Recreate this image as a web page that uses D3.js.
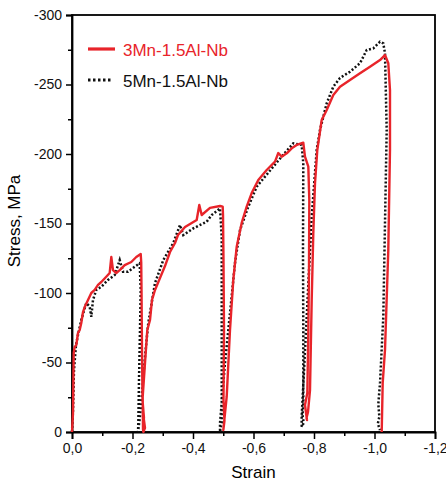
<!DOCTYPE html>
<html>
<head>
<meta charset="utf-8">
<script src="https://cdn.jsdelivr.net/npm/d3@7"></script>
<style>
  body { margin: 0; background: #fff; }
  text { font-family: "Liberation Sans", Arial, sans-serif; }
</style>
</head>
<body>
<script>
'use strict';

// series names
const seriesNames = ["3Mn-1.5Al-Nb", "5Mn-1.5Al-Nb"];

// 3Mn-1.5Al-Nb: [strain, stress MPa]
const strain3Mn = [0, -0.0033, -0.0056, -0.0089, -0.0142, -0.0198, -0.0254, -0.0307, -0.0364, -0.0420,
  -0.0529, -0.0638, -0.0750, -0.0860, -0.0969, -0.1124, -0.1246, -0.1299, -0.1355, -0.1464,
  -0.1577, -0.1742, -0.1960, -0.2126, -0.2271,
  -0.2288, -0.2298, -0.2314, -0.2331, -0.2380, -0.2347, -0.2413, -0.2360, -0.2347,
  -0.2337, -0.2413, -0.2489, -0.2579, -0.2645, -0.2744, -0.2909, -0.3074, -0.3240, -0.3405,
  -0.3504, -0.3736, -0.3957, -0.4122, -0.4208, -0.4288, -0.4562, -0.4893, -0.4982,
  -0.4992, -0.5008, -0.5025, -0.5008, -0.5040, -0.5002,
  -0.5114, -0.5223, -0.5332, -0.5445, -0.5610, -0.5775, -0.5940, -0.6159, -0.6436, -0.6711,
  -0.6820, -0.6932, -0.7098, -0.7263, -0.7428, -0.7646,
  -0.7702, -0.7812, -0.7845, -0.7835, -0.7812, -0.7779, -0.7702, -0.7769, -0.7752,
  -0.7802, -0.7868, -0.7924, -0.7977, -0.8033, -0.8109, -0.8255, -0.8420, -0.8638, -0.8860,
  -0.9190, -0.9521, -0.9851, -1.0182, -1.0347,
  -1.0456, -1.0512, -1.0512, -1.0456, -1.0347, -1.0271, -1.0238];
const stress3Mn = [0, -13.7, -56.8, -61.2, -62.6, -71.2, -73.4, -78.4, -86.3, -89.9,
  -95.0, -100.0, -102.2, -105.8, -107.9, -111.5, -114.4, -125.9, -116.5, -114.4,
  -116.5, -120.1, -122.3, -125.9, -128.1,
  -122.3, -102.2, -59.0, -23.0, -10.0, -14.0, -3.0, 0, -2.0,
  -25.4, -49.6, -73.4, -80.6, -95.0, -102.2, -110.8, -119.4, -129.5, -136.0,
  -141.7, -147.5, -150.4, -152.5, -163.3, -156.1, -161.2, -162.6, -162.1,
  -156.1, -123.7, -73.4, -23.0, -8.0, -1.4,
  -25.4, -73.4, -109.4, -133.3, -150.4, -162.1, -171.9, -181.3, -188.5, -194.5,
  -200.7, -198.1, -200.5, -204.1, -206.5, -208.1,
  -198.1, -190.9, -166.9, -118.9, -71.0, -28.1, -19.4, -8.6, -10.1,
  -14.4, -30.2, -95.0, -143.0, -178.9, -202.9, -224.5, -231.7, -242.4, -248.4,
  -253.2, -258.1, -262.8, -267.6, -271.2,
  -265.3, -246.0, -202.9, -130.9, -59.0, -35.3, 0];

// 5Mn-1.5Al-Nb
const strain5Mn = [0, -0.0033, -0.0066, -0.0132, -0.0198, -0.0307, -0.0473, -0.0585, -0.0638, -0.0694,
  -0.0803, -0.0969, -0.1190, -0.1412, -0.1577, -0.1686, -0.1851, -0.2073, -0.2238,
  -0.2271, -0.2248, -0.2215, -0.2192, -0.2182,
  -0.2248, -0.2413, -0.2522, -0.2744, -0.3018, -0.3349, -0.3570, -0.3679, -0.4010, -0.4453,
  -0.4618, -0.4893,
  -0.4949, -0.4949, -0.4949, -0.4893,
  -0.4893, -0.5058, -0.5223, -0.5388, -0.5554, -0.5828, -0.6106, -0.6380, -0.6655, -0.6932,
  -0.7316, -0.7593,
  -0.7646, -0.7636, -0.7646, -0.7646, -0.7620, -0.7660, -0.7593,
  -0.7593, -0.7759, -0.7924, -0.8089, -0.8198, -0.8420, -0.8638, -0.8860, -0.9190, -0.9521,
  -0.9742, -0.9960, -1.0182, -1.0291,
  -1.0347, -1.0403, -1.0291, -1.0182, -1.0126, -1.0160, -1.0110, -1.0182];
const stress5Mn = [0, -15.8, -44.6, -62.6, -69.8, -80.6, -92.8, -90.1, -82.9, -95.0,
  -102.2, -104.5, -109.4, -112.9, -123.7, -115.3, -115.3, -118.9, -121.4,
  -102.2, -73.4, -37.4, -6.3, 0,
  -11.0, -54.2, -78.4, -107.2, -123.7, -136.0, -148.9, -141.7, -146.5, -151.3,
  -156.1, -160.9,
  -140.5, -73.4, -6.5, 0,
  -6.5, -49.6, -85.6, -121.6, -145.3, -162.1, -176.5, -183.7, -190.9, -198.1,
  -207.7, -206.5,
  -193.3, -130.9, -73.4, -20.0, -12.0, -6.5, -3.8,
  -11.0, -82.9, -154.9, -202.9, -217.3, -236.5, -248.4, -254.7, -259.2, -265.3,
  -274.8, -276.0, -280.8, -279.6,
  -272.4, -217.3, -82.9, -35.3, -20.0, -11.0, -6.0, -1.4];

// axis ticks
const xTicks = [0, -0.2, -0.4, -0.6, -0.8, -1.0, -1.2];
const xMinor = [-0.1, -0.3, -0.5, -0.7, -0.9, -1.1];
const yTicks = [0, -50, -100, -150, -200, -250, -300];
const yMinor = [-25, -75, -125, -175, -225, -275];

const W = 446, H = 485;
const mLeft = 72, mRight = 435, mTop = 15, mBottom = 432;

const svg = d3.select('body').append('svg')
  .attr('width', W)
  .attr('height', H);

const x = d3.scaleLinear().domain([0, -1.2]).range([mLeft, mRight]);
const y = d3.scaleLinear().domain([0, -300]).range([mBottom, mTop]);

const fmt = d => d3.format('.1f')(d).replace('.', ',').replace('−', '-');

// frame
svg.append('rect')
  .attr('x', mLeft).attr('y', mTop)
  .attr('width', mRight - mLeft).attr('height', mBottom - mTop)
  .attr('fill', 'none').attr('stroke', '#000').attr('stroke-width', 1.8);

// x axis
const xAxis = d3.axisBottom(x).tickValues(xTicks).tickSize(7).tickPadding(4)
  .tickFormat(fmt);
const gx = svg.append('g').attr('transform', `translate(0,${mBottom})`).call(xAxis);
gx.select('.domain').attr('stroke-width', 1.8);
gx.selectAll('.tick line').attr('stroke-width', 1.5);
gx.selectAll('text').style('font-size', '14px').attr('fill', '#111');
svg.append('g').attr('transform', `translate(0,${mBottom})`)
  .call(d3.axisBottom(x).tickValues(xMinor).tickSize(4).tickFormat(''))
  .call(g => g.select('.domain').remove())
  .selectAll('.tick line').attr('stroke-width', 1.5);

// y axis
const yAxis = d3.axisLeft(y).tickValues(yTicks).tickSize(6).tickPadding(4)
  .tickFormat(d => String(d).replace('−', '-'));
const gy = svg.append('g').attr('transform', `translate(${mLeft},0)`).call(yAxis);
gy.select('.domain').attr('stroke-width', 1.8);
gy.selectAll('.tick line').attr('stroke-width', 1.5);
gy.selectAll('text').style('font-size', '14px').attr('fill', '#111');
svg.append('g').attr('transform', `translate(${mLeft},0)`)
  .call(d3.axisLeft(y).tickValues(yMinor).tickSize(4).tickFormat(''))
  .call(g => g.select('.domain').remove())
  .selectAll('.tick line').attr('stroke-width', 1.5);

// axis titles
svg.append('text')
  .attr('x', (mLeft + mRight) / 2)
  .attr('y', 478)
  .attr('text-anchor', 'middle')
  .style('font-size', '17px')
  .text('Strain');

svg.append('text')
  .attr('transform', 'translate(20, 221)rotate(-90)')
  .attr('text-anchor', 'middle')
  .style('font-size', '17px')
  .text('Stress, MPa');

// curves
const line = d3.line().x(d => x(d[0])).y(d => y(d[1]));
const pts5 = strain5Mn.map((s, i) => [s, stress5Mn[i]]);
const pts3 = strain3Mn.map((s, i) => [s, stress3Mn[i]]);

svg.append('path')
  .datum(pts5)
  .attr('d', line)
  .attr('fill', 'none')
  .attr('stroke', '#111')
  .attr('stroke-width', 2.5)
  .attr('stroke-dasharray', '2,2');

svg.append('path')
  .datum(pts3)
  .attr('d', line)
  .attr('fill', 'none')
  .attr('stroke', '#e8242a')
  .attr('stroke-width', 2.4)
  .attr('stroke-linejoin', 'round');

// legend
svg.append('line')
  .attr('x1', 88).attr('x2', 115).attr('y1', 49).attr('y2', 49)
  .attr('stroke', '#e8242a').attr('stroke-width', 3.2);
svg.append('text')
  .attr('x', 123).attr('y', 56)
  .style('font-size', '17px')
  .attr('fill', '#e8242a')
  .text(seriesNames[0]);
svg.append('line')
  .attr('x1', 88).attr('x2', 113).attr('y1', 80).attr('y2', 80)
  .attr('stroke', '#111').attr('stroke-width', 2.8)
  .attr('stroke-dasharray', '2.5,2.5');
svg.append('text')
  .attr('x', 123).attr('y', 87)
  .style('font-size', '17px')
  .attr('fill', '#111')
  .text(seriesNames[1]);
</script>
</body>
</html>
